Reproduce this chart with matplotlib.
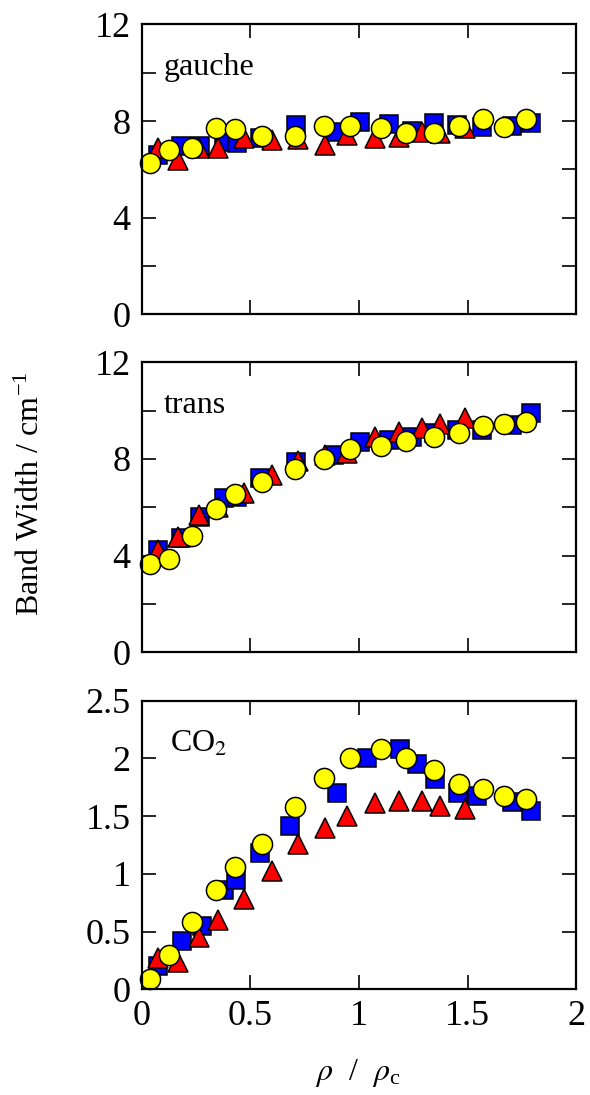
import matplotlib
matplotlib.use('Agg')
import matplotlib.pyplot as plt
from matplotlib.ticker import MultipleLocator, FormatStrFormatter

plt.rcParams['font.family'] = ['Liberation Serif', 'DejaVu Serif']
plt.rcParams['mathtext.fontset'] = 'stix'

# circles (yellow)
circ_x = [0.04, 0.125, 0.23, 0.34, 0.43, 0.555, 0.705, 0.84, 0.96, 1.10, 1.215, 1.347, 1.46, 1.57, 1.668, 1.767]
circ_gauche = [6.27, 6.80, 6.87, 7.70, 7.66, 7.38, 7.39, 7.81, 7.81, 7.70, 7.49, 7.49, 7.79, 8.07, 7.74, 8.07]
circ_trans = [3.65, 3.86, 4.81, 5.92, 6.55, 7.03, 7.57, 8.0, 8.41, 8.54, 8.74, 8.89, 9.09, 9.36, 9.45, 9.54]
circ_co2 = [0.09, 0.30, 0.585, 0.86, 1.06, 1.26, 1.58, 1.83, 2.00, 2.08, 2.00, 1.90, 1.78, 1.73, 1.67, 1.65]

# squares (blue)
sq_x = [0.077, 0.18, 0.27, 0.38, 0.437, 0.544, 0.71, 0.885, 1.005, 1.14, 1.242, 1.345, 1.452, 1.565, 1.705, 1.79]
sq_x_co2 = [0.077, 0.184, 0.276, 0.38, 0.434, 0.544, 0.683, 0.9, 1.038, 1.188, 1.265, 1.349, 1.457, 1.541, 1.703, 1.79]
sq_gauche = [6.59, 6.96, 6.96, 7.14, 7.08, 7.28, 7.83, 7.56, 7.97, 7.88, 7.60, 7.90, 7.83, 7.74, 7.79, 7.93]
sq_trans = [4.23, 4.72, 5.61, 6.37, 6.44, 7.2, 7.89, 8.16, 8.71, 8.78, 8.92, 9.09, 9.2, 9.2, 9.40, 9.89]
sq_co2 = [0.20, 0.42, 0.55, 0.86, 0.95, 1.18, 1.41, 1.70, 2.00, 2.08, 1.95, 1.82, 1.70, 1.67, 1.62, 1.54]

# triangles (red)
tri_x = [0.075, 0.165, 0.265, 0.35, 0.47, 0.60, 0.72, 0.845, 0.945, 1.075, 1.185, 1.29, 1.375, 1.49]
tri_gauche = [6.87, 6.38, 6.87, 6.87, 7.28, 7.21, 7.25, 7.0, 7.42, 7.28, 7.35, 7.56, 7.49, 7.70]
tri_trans = [4.23, 4.78, 5.68, 6.0, 6.6, 7.34, 7.9, 8.15, 8.25, 8.9, 9.1, 9.3, 9.45, 9.68]
tri_co2 = [0.27, 0.24, 0.455, 0.60, 0.78, 1.02, 1.26, 1.40, 1.50, 1.61, 1.63, 1.63, 1.59, 1.56]

panels = [
    ('gauche', sq_x, sq_gauche, tri_gauche, circ_gauche, (0, 12), 4, 2, 0.05),
    ('trans', sq_x, sq_trans, tri_trans, circ_trans, (0, 12), 4, 2, 0.05),
    ('CO$_2$', sq_x_co2, sq_co2, tri_co2, circ_co2, (0, 2.5), 0.5, None, 0.066),
]

W, H = 590, 1095
fig = plt.figure(figsize=(W / 100, H / 100), dpi=100)

# axes boxes in pixels: (top, bottom)
boxes = [(24.4, 314.2), (362.3, 652.3), (700.5, 989.3)]
left, right = 141.7, 576.3

for i, ((name, sx, sy, ty, cy, ylim, major, minor, lx), (top, bot)) in enumerate(zip(panels, boxes)):
    ax = fig.add_axes([left / W, 1 - bot / H, (right - left) / W, (bot - top) / H])

    ax.plot(sx, sy, 's', ms=12.5, mfc='#0000ff', mec='black', mew=1.1, ls='none', clip_on=False)
    ax.plot(tri_x, ty, '^', ms=15, mfc='#ff0000', mec='black', mew=1.1, ls='none', clip_on=False)
    ax.plot(circ_x, cy, 'o', ms=14.5, mfc='#ffff00', mec='black', mew=1.1, ls='none', clip_on=False)

    ax.set_xlim(0, 2)
    ax.set_ylim(*ylim)
    ax.xaxis.set_major_locator(MultipleLocator(0.5))
    ax.yaxis.set_major_locator(MultipleLocator(major))
    if minor:
        ax.yaxis.set_minor_locator(MultipleLocator(minor))
    ax.yaxis.set_major_formatter(FormatStrFormatter('%g'))
    ax.xaxis.set_major_formatter(FormatStrFormatter('%g'))

    ax.tick_params(which='both', direction='in', top=True, right=True,
                   length=10, width=1.2, labelsize=26, pad=8)
    if i < 2:
        ax.tick_params(labelbottom=False)
    for s in ax.spines.values():
        s.set_linewidth(1.6)

    ax.text(lx, 0.85, name, transform=ax.transAxes, fontsize=23,
            ha='left', va='center')

fig.text(31 / W, 1 - 494 / H, 'Band Width / cm$^{\\mathregular{-1}}$', rotation=90,
         fontsize=23, ha='center', va='center')
fig.text(358 / W, 1 - 1073 / H, '$\\rho$  /  $\\rho_{\\mathregular{c}}$',
         fontsize=23, ha='center', va='center')

fig.savefig('out.png', dpi=100)
